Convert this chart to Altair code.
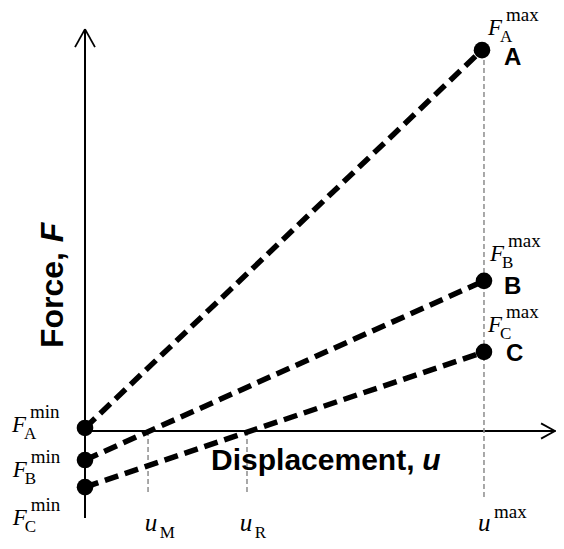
import altair as alt
import pandas as pd

# ---- data (in axis units: u_max = 1, F_A^max = 1) ----
series = ["A", "B", "C"]
u_start = [0.0, 0.0, 0.0]
f_min = [0.008, -0.076, -0.147]
u_end = [0.995, 1.0, 1.0]
f_max = [0.997, 0.393, 0.207]

u_names = ["M", "R"]
u_vals = [0.158, 0.406]
u_max = 1.0

# ---- layout helpers (scale domains so that the plot fills the page) ----
XDOM = [-0.193, 1.1805]
YDOM = [-0.288, 1.1073]
W, H = 548, 533
xs = alt.Scale(domain=XDOM, nice=False, zero=False)
ys = alt.Scale(domain=YDOM, nice=False, zero=False)


def X(field="u"):
    return alt.X(f"{field}:Q", scale=xs, axis=None)


def Y(field="F"):
    return alt.Y(f"{field}:Q", scale=ys, axis=None)


MATH = "Liberation Serif"
SANS = "Liberation Sans"

# ---- axes with open arrow heads ----
axes_df = pd.DataFrame({
    "u": [0.0, 0.0],
    "F": [-0.228, 0.0],
    "u2": [0.0, 1.18],
    "F2": [1.052, 0.0],
})
axes = alt.Chart(axes_df).mark_rule(color="black", strokeWidth=2).encode(
    x=X(), y=Y(), x2="u2:Q", y2="F2:Q")

arrow_df = pd.DataFrame({
    "u": [-0.025, 0.025, 1.143, 1.143],
    "F": [1.005, 1.005, 0.02, -0.02],
    "u2": [0.0, 0.0, 1.178, 1.178],
    "F2": [1.052, 1.052, 0.0, 0.0],
})
arrows = alt.Chart(arrow_df).mark_rule(color="black", strokeWidth=1.8).encode(
    x=X(), y=Y(), x2="u2:Q", y2="F2:Q")

# ---- grey dashed guides ----
guide_df = pd.DataFrame({
    "u": u_vals + [u_max],
    "F": [0.0, 0.0, 0.971],
    "F2": [-0.162, -0.162, -0.173],
})
guides = alt.Chart(guide_df).mark_rule(
    color="#8c8c8c", strokeWidth=1.5, strokeDash=[5, 3]).encode(
    x=X(), y=Y(), y2="F2:Q")

# ---- thick dashed force lines ----
line_df = pd.DataFrame({"s": series, "u": u_start, "F": f_min,
                        "u2": u_end, "F2": f_max})
lines = alt.Chart(line_df).mark_rule(
    color="black", strokeWidth=5.5, strokeDash=[14, 7], strokeCap="butt").encode(
    x=X(), y=Y(), x2="u2:Q", y2="F2:Q")

pts_df = pd.DataFrame({"u": u_start + u_end, "F": f_min + f_max})
dots = alt.Chart(pts_df).mark_circle(size=275, color="black", opacity=1).encode(
    x=X(), y=Y())

# ---- bold point names A, B, C ----
names_df = pd.DataFrame({"u": [1.050, 1.050, 1.055], "F": [0.958, 0.358, 0.183],
                         "t": series})
names = alt.Chart(names_df).mark_text(
    font=SANS, fontSize=24, fontWeight="bold", align="left", baseline="alphabetic",
    color="black").encode(x=X(), y=Y(), text="t:N")

# ---- F labels (F_X^min, F_X^max) ----
flab_df = pd.DataFrame({
    "u": [-0.183, -0.181, -0.181, 1.010, 1.015, 1.010],
    "F": [-0.003, -0.120, -0.246, 1.037, 0.444, 0.259],
    "sub": series + series,
    "sup": ["min"] * 3 + ["max"] * 3,
})
f_base = alt.Chart(flab_df).mark_text(
    font=MATH, fontSize=23, fontStyle="italic", align="left",
    baseline="alphabetic", color="black", text="F").encode(x=X(), y=Y())
f_sub = alt.Chart(flab_df).mark_text(
    font=MATH, fontSize=17, align="left", baseline="alphabetic", color="black",
    dx=12, dy=7).encode(x=X(), y=Y(), text="sub:N")
f_sup = alt.Chart(flab_df).mark_text(
    font=MATH, fontSize=19, align="left", baseline="alphabetic", color="black",
    dx=18, dy=-14).encode(x=X(), y=Y(), text="sup:N")

# ---- u labels ----
ulab_df = pd.DataFrame({
    "u": [0.150, 0.388, 0.985],
    "F": [-0.262, -0.262, -0.262],
    "sub": u_names + [""],
    "sup": ["", "", "max"],
})
u_base = alt.Chart(ulab_df).mark_text(
    font=MATH, fontSize=25, fontStyle="italic", align="left",
    baseline="alphabetic", color="black", text="u").encode(x=X(), y=Y())
u_sub = alt.Chart(ulab_df).mark_text(
    font=MATH, fontSize=17, align="left", baseline="alphabetic", color="black",
    dx=15, dy=7).encode(x=X(), y=Y(), text="sub:N")
u_sup = alt.Chart(ulab_df).mark_text(
    font=MATH, fontSize=19, align="left", baseline="alphabetic", color="black",
    dx=16, dy=-13).encode(x=X(), y=Y(), text="sup:N")

# ---- axis titles ----
xt_df = pd.DataFrame({"u": [0.316, 0.845], "F": [-0.102, -0.102],
                      "t": ["Displacement,", "u"]})
xtitle_a = alt.Chart(xt_df.iloc[[0]]).mark_text(
    font=SANS, fontSize=30, fontWeight="bold", align="left",
    baseline="alphabetic", color="black").encode(x=X(), y=Y(), text="t:N")
xtitle_b = alt.Chart(xt_df.iloc[[1]]).mark_text(
    font=SANS, fontSize=30, fontWeight="bold", fontStyle="italic", align="left",
    baseline="alphabetic", color="black").encode(x=X(), y=Y(), text="t:N")

yt_df = pd.DataFrame({"u": [-0.055, -0.055], "F": [0.217, 0.494],
                      "t": ["Force,", "F"]})
ytitle_a = alt.Chart(yt_df.iloc[[0]]).mark_text(
    font=SANS, fontSize=32, fontWeight="bold", align="left", angle=270,
    baseline="alphabetic", color="black").encode(x=X(), y=Y(), text="t:N")
ytitle_b = alt.Chart(yt_df.iloc[[1]]).mark_text(
    font=SANS, fontSize=32, fontWeight="bold", fontStyle="italic", align="left",
    angle=270, baseline="alphabetic", color="black").encode(x=X(), y=Y(), text="t:N")

chart = alt.layer(
    axes, arrows, guides, lines, dots, names,
    f_base, f_sub, f_sup, u_base, u_sub, u_sup,
    xtitle_a, xtitle_b, ytitle_a, ytitle_b,
).properties(
    width=W, height=H, padding=0, background="white",
    autosize=alt.AutoSizeParams(type="none"),
).configure_view(stroke=None)

chart.save("out.html", embed_options={"renderer": "svg", "actions": False})
